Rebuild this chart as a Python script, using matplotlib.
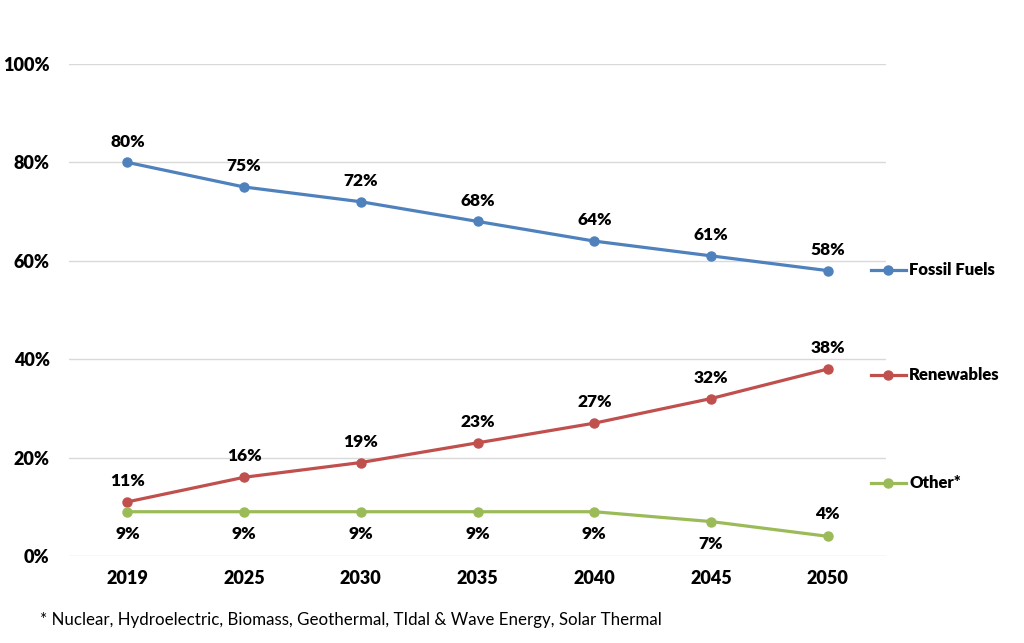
import matplotlib.pyplot as plt
from matplotlib.lines import Line2D

plt.rcParams['font.family'] = ['Lato', 'DejaVu Sans']

# Data
years = ['2019', '2025', '2030', '2035', '2040', '2045', '2050']
fossil = [80, 75, 72, 68, 64, 61, 58]
renewables = [11, 16, 19, 23, 27, 32, 38]
other = [9, 9, 9, 9, 9, 7, 4]
names = ['Fossil Fuels', 'Renewables', 'Other*']
colors = ['#4F81BD', '#C0504D', '#9BBB59']
footnote = '* Nuclear, Hydroelectric, Biomass, Geothermal, TIdal & Wave Energy, Solar Thermal'

fig = plt.figure(figsize=(10.24, 6.43), dpi=100)
ax = fig.add_axes([0.0674, 0.1353, 0.798, 0.7652])

x = range(len(years))
series = [fossil, renewables, other]
# label offset in points (above for fossil / renewables, below for other,
# except the last "other" point which sits above)
offsets = [[15] * 7, [15] * 7, [-16] * 6 + [16]]
for vals, col, offs in zip(series, colors, offsets):
    ax.plot(x, vals, color=col, lw=2.3, marker='o', ms=6.5, zorder=3)
    for xi, v, off in zip(x, vals, offs):
        ax.annotate(f'{v}%', (xi, v), xytext=(0, off), textcoords='offset points',
                    ha='center', va='center', fontsize=12.5, fontweight='heavy')

ax.set_xlim(-0.5, len(years) - 0.5)
ax.set_ylim(0, 100)
ax.set_yticks(range(0, 101, 20))
ax.set_yticklabels([f'{t}%' for t in range(0, 101, 20)])
ax.set_xticks(list(x))
ax.set_xticklabels(years)
ax.tick_params(length=0, labelsize=13, pad=10)
ax.tick_params(axis='y', pad=14)
for lab in ax.get_xticklabels() + ax.get_yticklabels():
    lab.set_fontweight('heavy')
ax.grid(axis='y', color='#D9D9D9', lw=1)
ax.set_axisbelow(True)
for s in ax.spines.values():
    s.set_visible(False)

# legend entries on the right
leg_y = [270, 375, 483]
for name, col, py in zip(names, colors, leg_y):
    fy = 1 - py / 643
    fig.add_artist(Line2D([871 / 1024, 906 / 1024], [fy, fy], color=col, lw=2.3,
                          transform=fig.transFigure))
    fig.add_artist(Line2D([888 / 1024], [fy], color=col, marker='o', ms=6.5,
                          transform=fig.transFigure))
    fig.text(909 / 1024, fy, name, ha='left', va='center', fontsize=12, fontweight='heavy')

fig.text(40 / 1024, 1 - 620 / 643, footnote, ha='left', va='center', fontsize=12.2)

fig.savefig('out.png', dpi=100, facecolor='white')
